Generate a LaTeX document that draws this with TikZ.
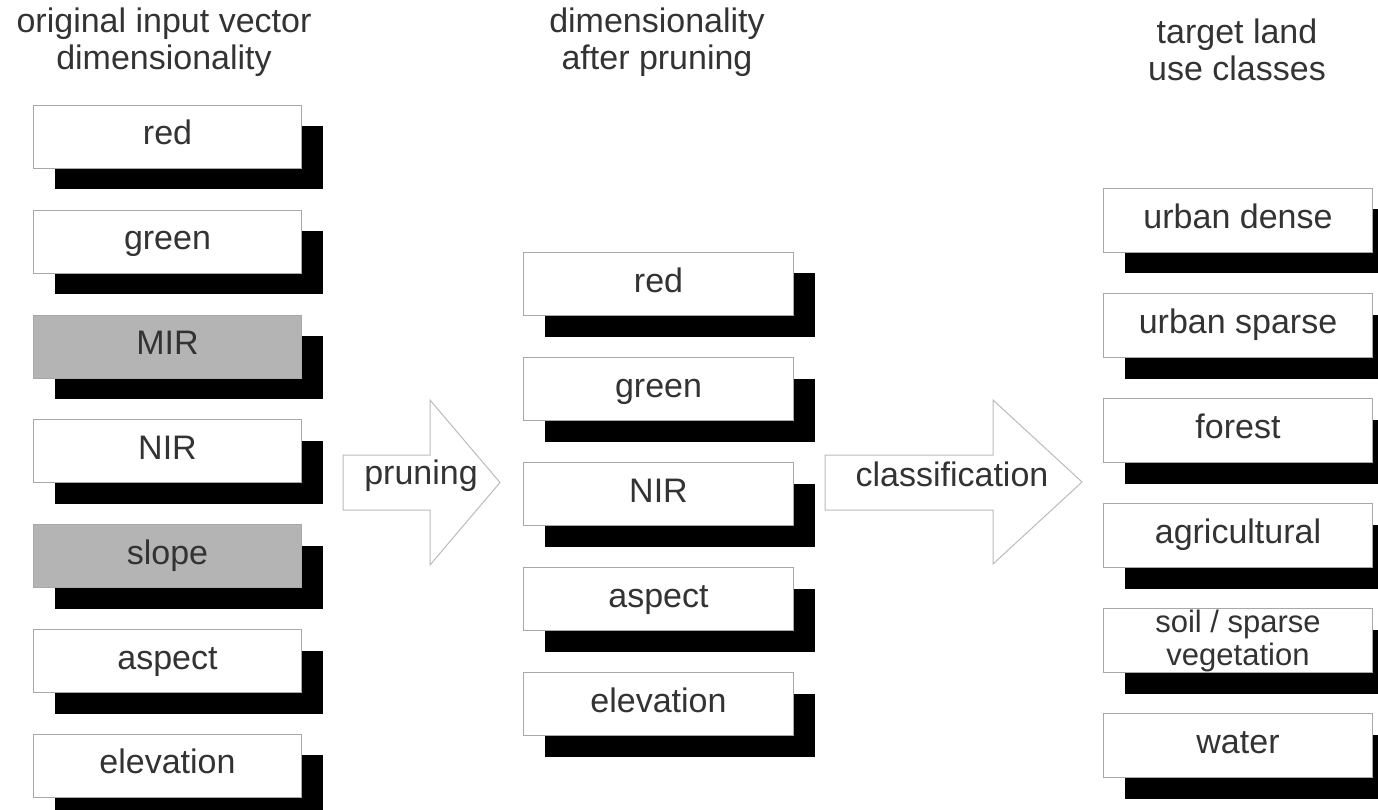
\documentclass[tikz,border=0pt]{standalone}
\usepackage{fontspec}
\setmainfont{Liberation Sans}
\usetikzlibrary{shadows}
\definecolor{txt}{HTML}{333333}
\definecolor{edge}{HTML}{A8A8A8}
\definecolor{boxgray}{HTML}{B4B4B4}
\definecolor{arrowedge}{HTML}{BBBBBB}
\tikzset{
  lubox/.style={draw=edge, line width=1pt, fill=white, minimum width=268pt,
    minimum height=63pt, inner sep=0pt, text=txt,
    font=\fontsize{34}{36}\selectfont, text height=24pt, text depth=8pt,
    anchor=north west,
    drop shadow={opacity=1, fill=black, shadow xshift=21pt, shadow yshift=-21pt}},
  graybox/.style={lubox, fill=boxgray},
  header/.style={text=txt, font=\fontsize{34}{36.5}\selectfont, align=center,
    inner sep=0pt, anchor=north},
  bigarrow/.style={draw=arrowedge, line width=1pt, fill=white},
  arrowlabel/.style={text=txt, font=\fontsize{34}{36}\selectfont, inner sep=0pt,
    anchor=base},
}
\begin{document}
\begin{tikzpicture}[x=1pt, y=-1pt]
\useasboundingbox (0,0) rectangle (1378,810);
\begin{scope}
\clip (0,0) rectangle (1378,810);

% headers
\node[header] (h1) at (164,7.7) {original input vector\\dimensionality};
\node[header] (h2) at (657,7.7) {dimensionality\\after pruning};
\node[header] (h3) at (1237,18.7) {target land\\use classes};

% left column
\node[lubox]   (l1) at (33,105)   {red};
\node[lubox]   (l2) at (33,209.8) {green};
\node[graybox] (l3) at (33,314.6) {MIR};
\node[lubox]   (l4) at (33,419.4) {NIR};
\node[graybox] (l5) at (33,524.2) {slope};
\node[lubox]   (l6) at (33,629)   {aspect};
\node[lubox]   (l7) at (33,733.8) {elevation};

% middle column
\tikzset{midw/.style={minimum width=270pt}}
\node[lubox, midw] (m1) at (523,252) {red};
\node[lubox, midw] (m2) at (523,357) {green};
\node[lubox, midw] (m3) at (523,462) {NIR};
\node[lubox, midw] (m4) at (523,567) {aspect};
\node[lubox, midw] (m5) at (523,672) {elevation};

% right column
\tikzset{rightw/.style={minimum width=269pt, minimum height=64pt}}
\node[lubox, rightw] (r1) at (1103,188) {urban dense};
\node[lubox, rightw] (r2) at (1103,293) {urban sparse};
\node[lubox, rightw] (r3) at (1103,398) {forest};
\node[lubox, rightw] (r4) at (1103,503) {agricultural};
\node[lubox, rightw, text height=, text depth=, align=center,
      font=\fontsize{31}{33}\selectfont] (r5) at (1103,608) {soil / sparse\\vegetation};
\node[lubox, rightw] (r6) at (1103,713) {water};

% big arrows
\draw[bigarrow] (343,455) -- (430,455) -- (430,400) -- (500,482.5)
  -- (430,565) -- (430,510) -- (343,510) -- cycle;
\node[arrowlabel] (pr) at (421,484) {pruning};
\draw[bigarrow] (825,455) -- (993,455) -- (993,400) -- (1082,482)
  -- (993,564) -- (993,510) -- (825,510) -- cycle;
\node[arrowlabel] (cl) at (952,486) {classification};
\end{scope}
\end{tikzpicture}
\end{document}
